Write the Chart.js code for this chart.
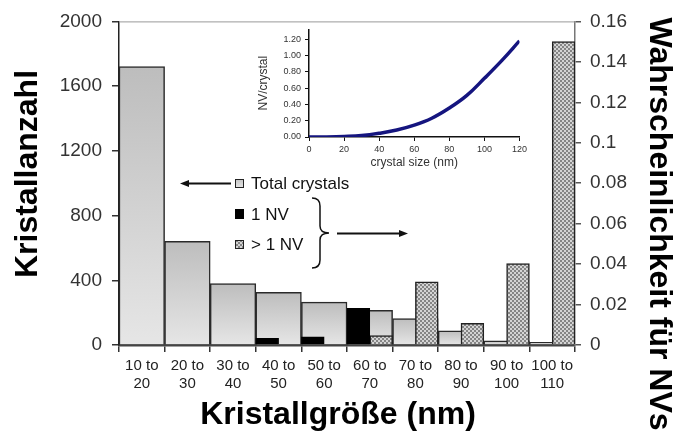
<!DOCTYPE html>
<html><head><meta charset="utf-8">
<title>Kristallgröße und NV-Wahrscheinlichkeit</title>
<script src="https://cdn.jsdelivr.net/npm/chart.js@4"></script>
<style>
    body { margin: 0; background: #fff; }
    #wrap { position: relative; width: 676px; height: 444px; }
    #main { position: absolute; left: 0; top: 0; }
    #inset { position: absolute; left: 240px; top: 20px; }
</style></head>
<body>
<div id="wrap">
    <canvas id="main" width="676" height="444"></canvas>
    <canvas id="inset" width="290" height="150"></canvas>
</div>
<script>
// --- DATEN ---
const binLabels = [['10 to','20'],['20 to','30'],['30 to','40'],['40 to','50'],['50 to','60'],
                   ['60 to','70'],['70 to','80'],['80 to','90'],['90 to','100'],['100 to','110']];
const totalCrystals = [1720, 640, 380, 326, 265, 215, 164, 88, 26, 17];
const probOneNV   = [null, null, null, 0.0033, 0.0041, 0.0181, null, null, null, null];
const probMultiNV = [null, null, null, null, null, 0.0046, 0.0312, 0.0107, 0.0402, 0.150];

// Inset: NV pro Kristall
const insetSize = [0, 10, 20, 30, 40, 50, 60, 70, 80, 90, 100, 110, 120];
const insetNV   = [0, 0.001, 0.006, 0.017, 0.045, 0.085, 0.145, 0.23, 0.355, 0.51, 0.72, 0.94, 1.18];

const FONT = '"Liberation Sans", Arial, sans-serif';
Chart.defaults.font.family = FONT;
Chart.defaults.color = '#333';

// Schachbrettmuster für "> 1 NV"
function checker(ctx) {
    const p = document.createElement('canvas');
    p.width = 4; p.height = 4;
    const g = p.getContext('2d');
    g.fillStyle = '#d4d4d4'; g.fillRect(0, 0, 4, 4);
    g.fillStyle = '#858585'; g.fillRect(0, 0, 2, 2); g.fillRect(2, 2, 2, 2);
    return ctx.createPattern(p, 'repeat');
}

function barGradient(c) {
    const chart = c.chart, ys = chart.scales.y;
    if (!ys || c.raw == null) return '#d6d6d6';
    const top = ys.getPixelForValue(c.raw), bot = ys.getPixelForValue(0);
    if (!isFinite(top) || Math.abs(bot - top) < 1) return '#e2e2e2';
    const g = chart.ctx.createLinearGradient(0, top, 0, bot);
    g.addColorStop(0, '#bdbdbd');
    g.addColorStop(1, '#e6e6e6');
    return g;
}

function arrow(c, x1, y, x2) {
    const dir = Math.sign(x2 - x1);
    c.beginPath(); c.moveTo(x1, y); c.lineTo(x2 - dir * 7, y); c.stroke();
    c.beginPath(); c.moveTo(x2, y); c.lineTo(x2 - dir * 9, y - 3.5); c.lineTo(x2 - dir * 9, y + 3.5); c.closePath(); c.fill();
}

const mainCtx = document.getElementById('main').getContext('2d');
const pattern = checker(mainCtx);

// Legende, Pfeile, Klammer, Achsentitel
const deko = {
    id: 'deko',
    beforeDatasetsDraw(chart) {
        const c = chart.ctx, a = chart.chartArea;
        c.save();
        c.strokeStyle = '#999'; c.lineWidth = 1;
        c.beginPath(); c.moveTo(a.left, a.top + 0.5); c.lineTo(a.right, a.top + 0.5); c.stroke();
        c.restore();
    },
    afterDraw(chart) {
        const c = chart.ctx;
        c.save();
        c.fillStyle = '#111'; c.strokeStyle = '#111'; c.lineWidth = 2;
        arrow(c, 231, 183.5, 180);
        arrow(c, 337, 233.5, 408);
        // Klammer
        c.lineWidth = 1.5;
        c.beginPath();
        c.moveTo(312, 198);
        c.quadraticCurveTo(320, 198, 320, 206);
        c.lineTo(320, 226);
        c.quadraticCurveTo(320, 233, 329, 233);
        c.quadraticCurveTo(320, 233, 320, 240);
        c.lineTo(320, 260);
        c.quadraticCurveTo(320, 268, 312, 268);
        c.stroke();
        // Legendenkästchen
        c.lineWidth = 1;
        const g = c.createLinearGradient(0, 179, 0, 188);
        g.addColorStop(0, '#c4c4c4'); g.addColorStop(1, '#e6e6e6');
        c.fillStyle = g; c.fillRect(235, 179, 9, 9); c.strokeStyle = '#222'; c.strokeRect(235.5, 179.5, 8, 8);
        c.fillStyle = '#000'; c.fillRect(235, 209, 9, 10);
        c.fillStyle = pattern; c.fillRect(235, 240, 9, 9); c.strokeRect(235.5, 240.5, 8, 8);
        c.fillStyle = '#111';
        c.font = '17px ' + FONT; c.textBaseline = 'middle'; c.textAlign = 'left';
        c.fillText('Total crystals', 251, 184);
        c.fillText('1 NV', 251, 215);
        c.fillText('> 1 NV', 251, 245);
        // Achsentitel
        c.fillStyle = '#000';
        c.font = 'bold 32px ' + FONT; c.textAlign = 'center';
        c.fillText('Kristallgröße (nm)', 338, 415);
        c.save(); c.translate(28, 174); c.rotate(-Math.PI / 2); c.fillText('Kristallanzahl', 0, 0); c.restore();
        c.save(); c.translate(659, 224); c.rotate(Math.PI / 2); c.fillText('Wahrscheinlichkeit für NVs', 0, 0); c.restore();
        c.restore();
    }
};

new Chart(mainCtx, {
    type: 'bar',
    data: {
        labels: binLabels,
        datasets: [
            { label: '1 NV', data: probOneNV, yAxisID: 'y2', stack: 'a', order: 1,
              backgroundColor: '#000', borderColor: '#000', borderWidth: 1,
              barPercentage: 1, categoryPercentage: 1 },
            { label: '> 1 NV', data: probMultiNV, yAxisID: 'y2', stack: 'b', order: 1,
              backgroundColor: pattern, borderColor: '#222', borderWidth: 1.5,
              barPercentage: 1, categoryPercentage: 1 },
            { label: 'Total crystals', data: totalCrystals, yAxisID: 'y', order: 2, grouped: false,
              backgroundColor: barGradient, borderColor: '#2a2a2a', borderWidth: 1.5,
              barPercentage: 1, categoryPercentage: 1 }
        ]
    },
    options: {
        responsive: false,
        animation: false,
        layout: { padding: { top: 20, left: 0, right: 0, bottom: 0 } },
        plugins: { legend: { display: false }, tooltip: { enabled: false } },
        scales: {
            x: {
                grid: { drawOnChartArea: false, tickLength: 7, color: '#333', lineWidth: 1.5 },
                border: { color: '#444', width: 2.5 },
                ticks: { font: { size: 15 }, color: '#222', padding: 5, maxRotation: 0, autoSkip: false },
                afterFit: s => { s.height = 99; }
            },
            y: {
                position: 'left', min: 0, max: 2000,
                ticks: { stepSize: 400, font: { size: 19 }, color: '#333', padding: 10,
                         callback: v => String(v) },
                grid: { drawOnChartArea: false, tickLength: 7, color: '#333', lineWidth: 1.5 },
                border: { color: '#222', width: 1.5 },
                afterFit: s => { s.width = 119; }
            },
            y2: {
                position: 'right', min: 0, max: 0.16,
                ticks: { stepSize: 0.02, font: { size: 19 }, color: '#333', padding: 9,
                         callback: v => String(+v.toFixed(2)) },
                grid: { drawOnChartArea: false, tickLength: 6, color: '#555', lineWidth: 1.5 },
                border: { color: '#777', width: 1.5 },
                afterFit: s => { s.width = 101; }
            }
        }
    },
    plugins: [deko]
});

// --- INSET ---
new Chart(document.getElementById('inset'), {
    type: 'line',
    data: {
        datasets: [{
            data: insetSize.map((s, i) => ({ x: s, y: insetNV[i] })),
            borderColor: '#15157f', borderWidth: 3.5, pointRadius: 0,
            tension: 0.4
        }]
    },
    options: {
        responsive: false,
        animation: false,
        layout: { padding: { top: 3, right: 9, left: 0, bottom: 0 } },
        plugins: { legend: { display: false }, tooltip: { enabled: false } },
        scales: {
            x: {
                type: 'linear', min: 0, max: 120,
                ticks: { stepSize: 20, font: { size: 9 }, color: '#333', padding: 3 },
                grid: { drawOnChartArea: false, tickLength: 4, color: '#111' },
                border: { color: '#111', width: 1.5 },
                title: { display: true, text: 'crystal size (nm)', font: { size: 12 }, color: '#333',
                         padding: { top: 0, bottom: 0 } },
                afterFit: s => { s.height = 33; }
            },
            y: {
                min: 0, max: 1.32,
                ticks: { stepSize: 0.2, includeBounds: false, font: { size: 9 }, color: '#333', padding: 4,
                         callback: v => v.toFixed(2) },
                grid: { drawOnChartArea: false, tickLength: 4, color: '#111' },
                border: { color: '#111', width: 1.5 },
                title: { display: true, text: 'NV/crystal', font: { size: 12 }, color: '#333',
                         padding: { top: 16, bottom: 0 } },
                afterFit: s => { s.width = 69; }
            }
        }
    }
});
</script>
</body></html>
